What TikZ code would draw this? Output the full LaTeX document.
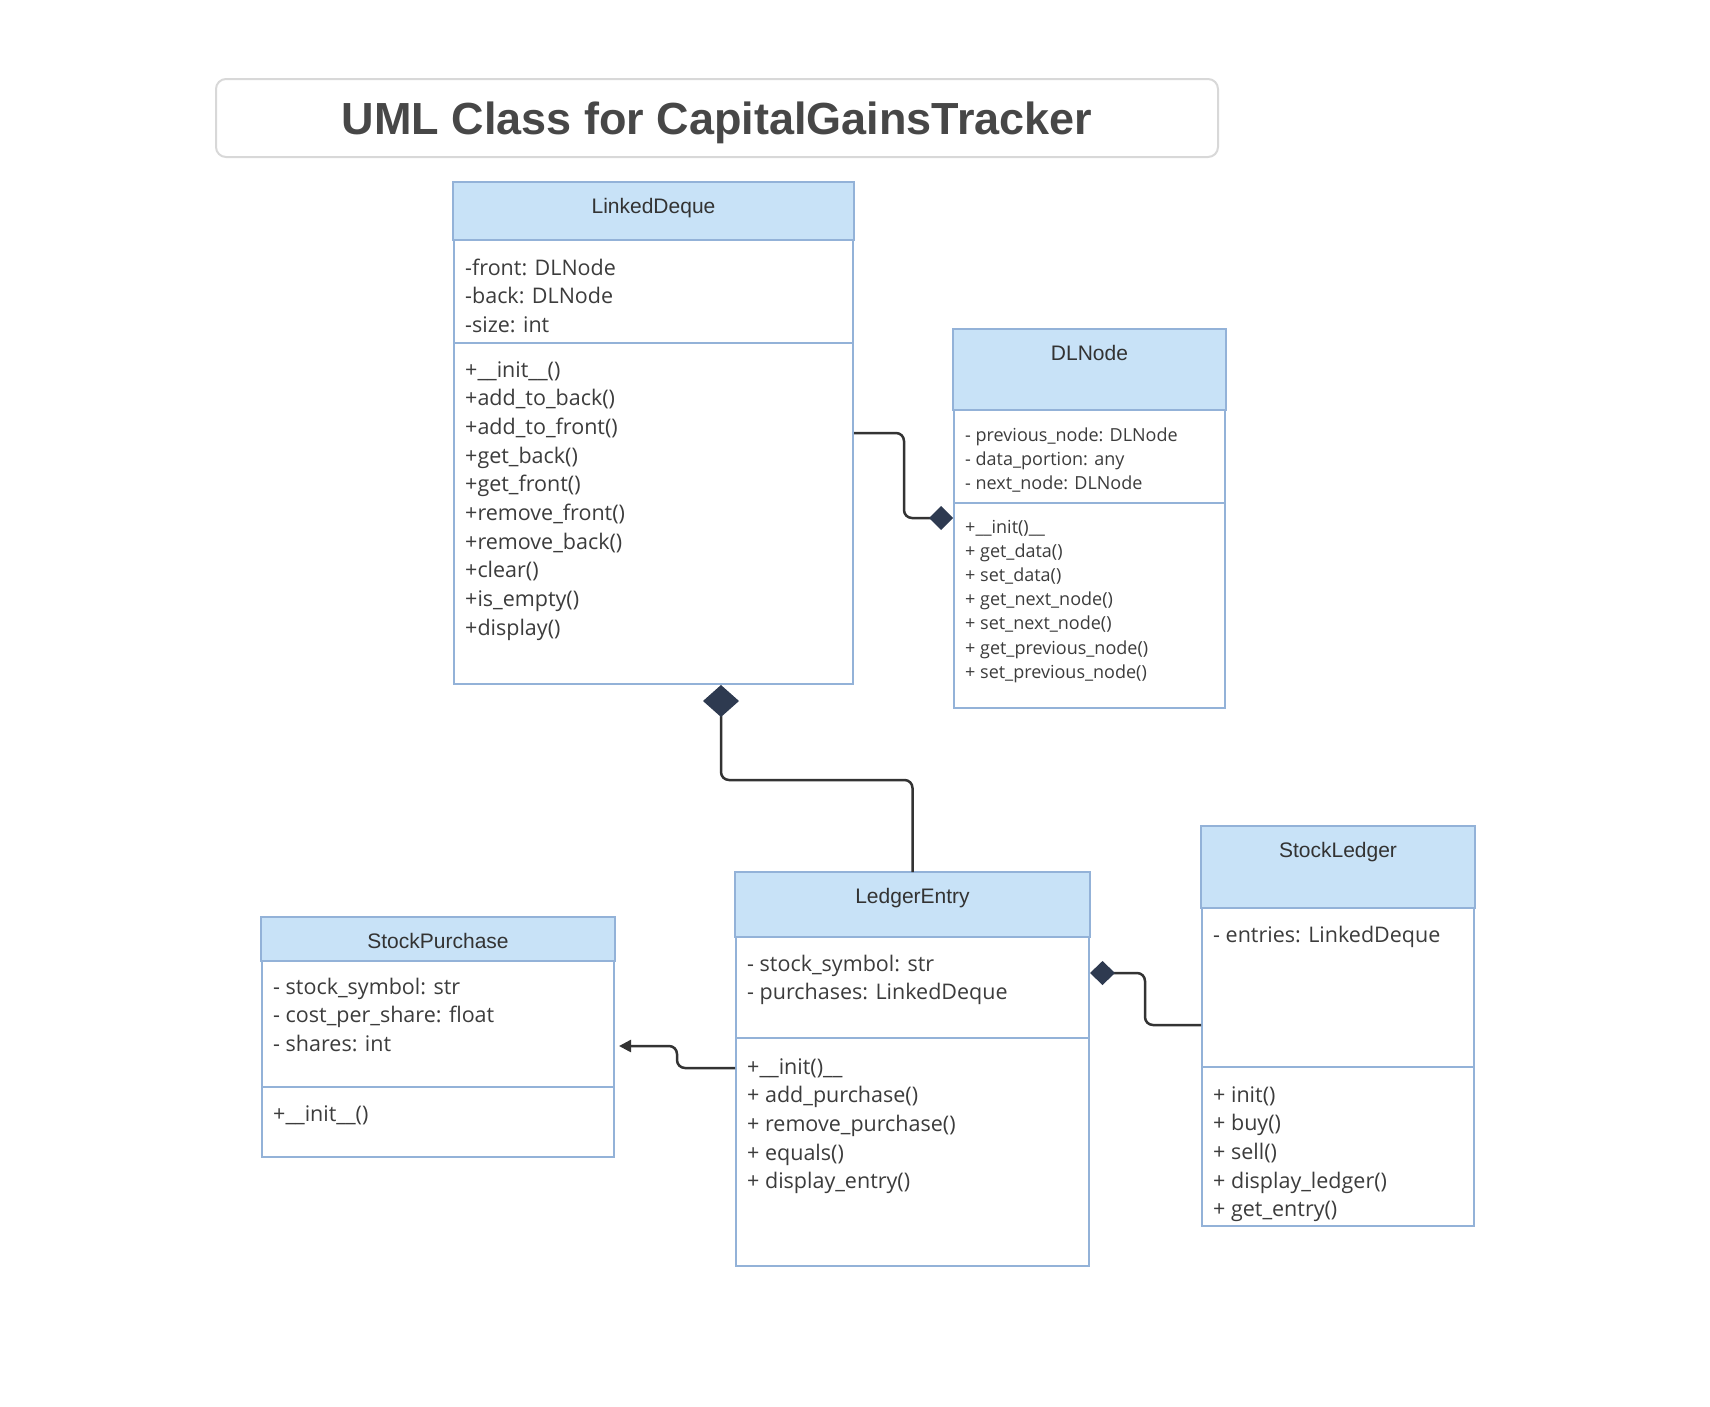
\documentclass[tikz,border=0pt]{standalone}
\usepackage{fontspec}
\setmainfont{Open Sans}
\newfontfamily\headfont{Liberation Sans}
\usetikzlibrary{arrows.meta}
\definecolor{boxblue}{HTML}{93B2D8}
\definecolor{headblue}{HTML}{C8E2F7}
\definecolor{linkgray}{HTML}{333333}
\definecolor{navy}{HTML}{2E3A50}
\definecolor{titleline}{HTML}{D8D8D8}
\definecolor{titletext}{HTML}{474747}
\definecolor{membertext}{HTML}{3C3C3C}
\tikzset{
  titlebox/.style={draw=titleline, line width=2pt, rounded corners=10pt, minimum width=1002pt, minimum height=78pt,
    text=titletext, text height=33pt, text depth=0pt, font=\headfont\bfseries\fontsize{45}{50}\selectfont},
  classbox/.style={draw=boxblue, line width=2pt, fill=white, anchor=north west, inner sep=0pt},
  headbox/.style={draw=boxblue, line width=2pt, fill=headblue},
  classname/.style={anchor=base, text=linkgray, font=\headfont\fontsize{21}{25}\selectfont},
  member/.style={anchor=base west, inner sep=0pt, text=membertext, font=\fontsize{21.5}{26}\selectfont},
  smallmember/.style={member, font=\fontsize{18}{22}\selectfont},
  link/.style={draw=linkgray, line width=2.5pt, rounded corners=8pt},
  comp/.style={-{Diamond[length=#1, width=24pt, fill=navy, color=navy]}}
}
\begin{document}
\begin{tikzpicture}[x=1pt, y=-1pt]
\useasboundingbox (0,0) rectangle (1710,1406);
\node[titlebox] (title) at (717,118) {UML Class for CapitalGainsTracker};
\foreach \n/\x/\y/\w/\h/\hd/\dv/\t in {deque/453/182/399/501/58/161/LinkedDeque,
    dlnode/953/329/271/378/81/174/DLNode, entry/735/872/353/393/65/166/LedgerEntry,
    ledger/1201/826/272/399/82/241/StockLedger, purchase/261/917/352/239/44/170/StockPurchase} {
  \node[classbox, minimum width=\w pt, minimum height=\h pt] (\n) at (\x,\y) {};
  \draw[headbox] (\n.north west) rectangle ([yshift=-\hd pt]\n.north east);
  \draw[boxblue, line width=2pt] ([yshift=-\dv pt]\n.north west) -- ([yshift=-\dv pt]\n.north east);
  \node[classname] at ([yshift=-31pt]\n.north) {\t};
}
\foreach \m [count=\i] in {-front: DLNode, -back: DLNode, -size: int}
  \node[member] at (465,{275+28.7*(\i-1)}) {\m};
\foreach \m [count=\i] in {+\_\_init\_\_(), +add\_to\_back(), +add\_to\_front(), +get\_back(), +get\_front(),
    +remove\_front(), +remove\_back(), +clear(), +is\_empty(), +display()}
  \node[member] at (465,{377+28.7*(\i-1)}) {\m};
\foreach \m [count=\i] in {- previous\_node: DLNode, - data\_portion: any, - next\_node: DLNode}
  \node[smallmember] at (965,{441+24.2*(\i-1)}) {\m};
\foreach \m [count=\i] in {+\_\_init()\_\_, + get\_data(), + set\_data(), + get\_next\_node(), + set\_next\_node(),
    + get\_previous\_node(), + set\_previous\_node()}
  \node[smallmember] at (965,{533+24.2*(\i-1)}) {\m};
\foreach \m [count=\i] in {- stock\_symbol: str, - purchases: LinkedDeque}
  \node[member] at (747,{971+28.7*(\i-1)}) {\m};
\foreach \m [count=\i] in {+\_\_init()\_\_, + add\_purchase(), + remove\_purchase(), + equals(), + display\_entry()}
  \node[member] at (747,{1074+28.7*(\i-1)}) {\m};
\node[member] at (1213,942) {- entries: LinkedDeque};
\foreach \m [count=\i] in {+ init(), + buy(), + sell(), + display\_ledger(), + get\_entry()}
  \node[member] at (1213,{1102+28.7*(\i-1)}) {\m};
\foreach \m [count=\i] in {- stock\_symbol: str, - cost\_per\_share: float, - shares: int}
  \node[member] at (273,{994+28.7*(\i-1)}) {\m};
\node[member] at (273,1121) {+\_\_init\_\_()};
\draw[link, comp=24pt] (deque.east |- 0,433) -- (904,433) -- (904,518) -- (dlnode.west |- 0,518);
\draw[link, -{Diamond[length=32pt, width=36pt, fill=navy, color=navy]}] (entry.north) -- (entry.north |- 0,780)
  -- (721,780) -- (deque.south -| 721,0);
\draw[link, comp=25pt] (ledger.west |- 0,1025) -- (1145,1025) -- (1145,973) -- (entry.east |- 0,973);
\draw[link, -{Triangle[length=12pt, width=12pt]}, shorten >=4pt] (entry.west |- 0,1068) -- (677,1068) -- (677,1046)
  -- (purchase.east |- 0,1046);
\end{tikzpicture}
\end{document}
